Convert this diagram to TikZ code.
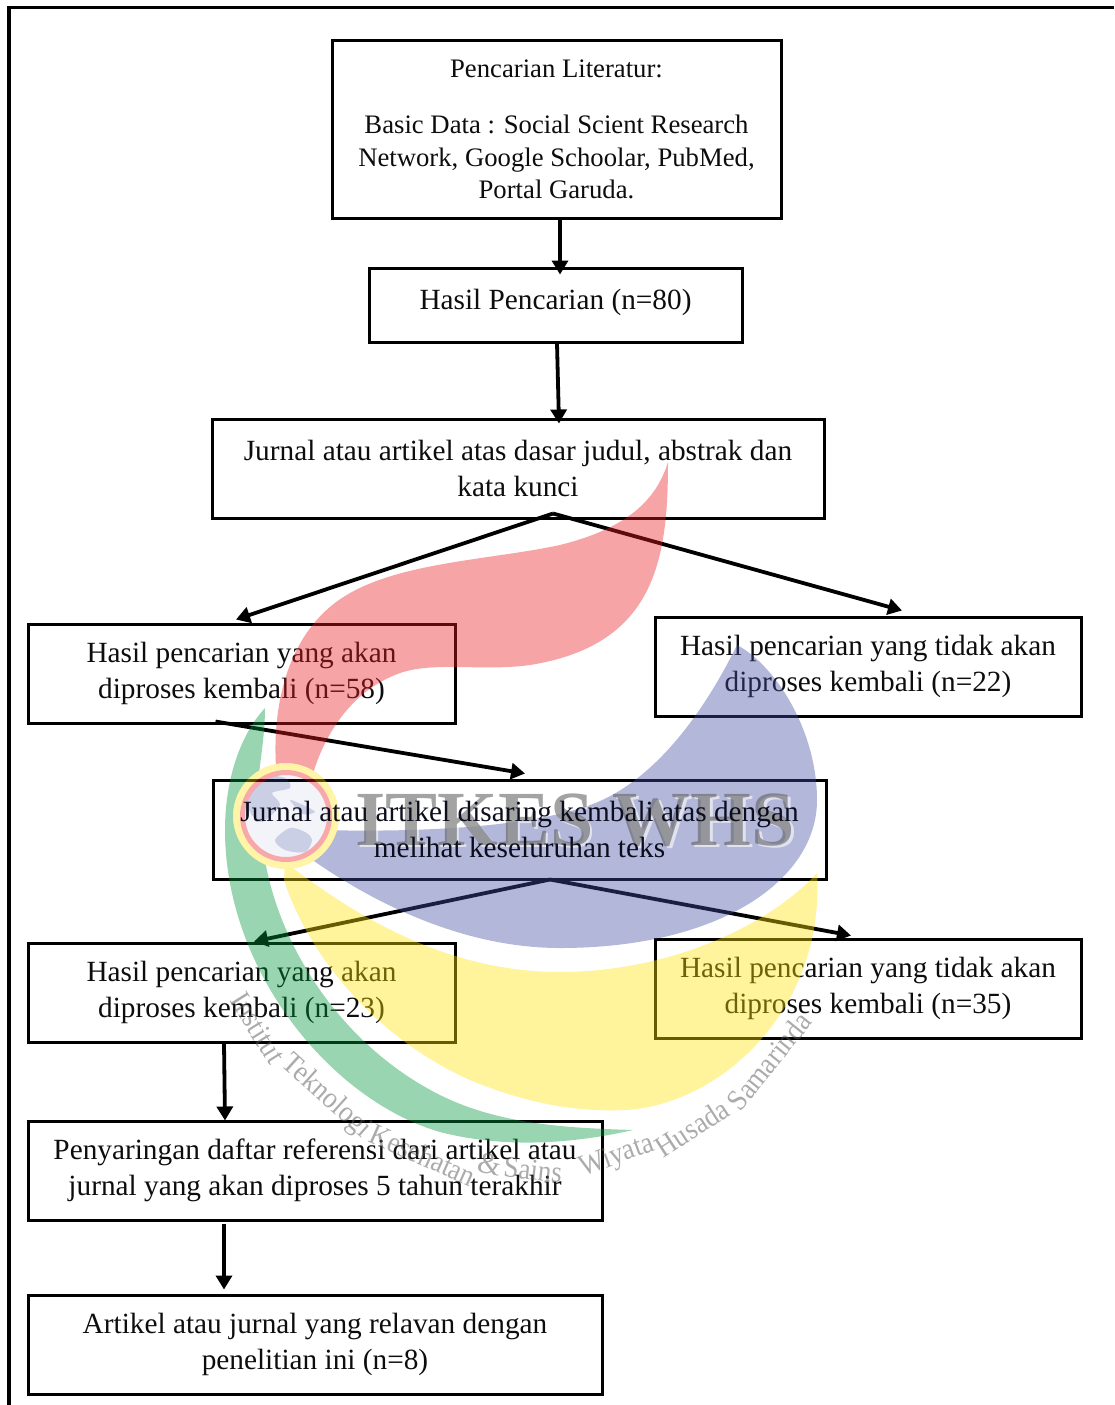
\documentclass[tikz,border=0pt]{standalone}
\usepackage{fontspec}
\setmainfont{Liberation Serif}
\usetikzlibrary{arrows.meta,calc}
\definecolor{wmred}{HTML}{ED1C24}
\definecolor{wmblue}{HTML}{414DA2}
\definecolor{wmyellow}{HTML}{FFE107}
\definecolor{wmgreen}{HTML}{02963A}
\newcommand{\wmw}[1]{\scalebox{.9}[1]{#1}}
\tikzset{
  x=1pt,y=-1pt,
  framerule/.style={line width=3.4pt,black,line cap=butt},
  flowbox/.style={draw=black,line width=3pt,fill=white,inner sep=0pt,align=center,
    font=\fontsize{29.3}{36.5}\selectfont,text=black!95},
  smallbox/.style={flowbox,font=\fontsize{26.7}{32.8}\selectfont},
  flowarrow/.style={line width=3.8pt,black,-{Triangle[length=14pt,width=16pt]}},
  wmshape/.style={fill opacity=.4},
  wmword/.style={inner sep=0pt,text=black!65,text opacity=.5,font=\fontsize{30}{30}\selectfont},
  overtext/.style={inner sep=0pt,align=center,font=\fontsize{29.3}{36.5}\selectfont,text=black!82!wmblue},
}
\begin{document}
\begin{tikzpicture}
\useasboundingbox (0,0) rectangle (1114,1405);
\fill[white] (0,0) rectangle (1114,1405);
\coordinate (fa) at (1114,7.5);
\coordinate (fb) at (9,7.5);
\coordinate (fc) at (9,1405);
\draw[framerule] (fa) -- (fb) -- (fc);

\node[smallbox,minimum width=449pt,minimum height=177pt] (b1) at (556.5,129.5)
 {Pencarian Literatur:\\[23pt]Basic Data : Social Scient Research\\Network, Google Schoolar, PubMed,\\Portal Garuda.};
\node[flowbox,minimum width=373pt,minimum height=74pt] (b2) at (555.5,305) {\raisebox{12pt}{Hasil Pencarian (n=80)}};
\node[flowbox,minimum width=612pt,minimum height=99pt] (b3) at (518,468.5) {Jurnal atau artikel atas dasar judul, abstrak dan\\kata kunci};
\node[flowbox,minimum width=427pt,minimum height=99pt] (b4) at (241.5,673.5) {Hasil pencarian yang akan\\diproses kembali (n=58)};
\node[flowbox,minimum width=426pt,minimum height=99pt] (b5) at (868,666.5) {Hasil pencarian yang tidak akan\\diproses kembali (n=22)};
\node[flowbox,minimum width=613pt,minimum height=99pt] (b6) at (519.5,829.5) {};
\node[flowbox,minimum width=427pt,minimum height=99pt] (b7) at (241.5,992.5) {Hasil pencarian yang akan\\diproses kembali (n=23)};
\node[flowbox,minimum width=426pt,minimum height=99pt] (b8) at (868,988.5) {Hasil pencarian yang tidak akan\\diproses kembali (n=35)};
\node[flowbox,minimum width=574pt,minimum height=99pt] (b9) at (315,1170.5) {Penyaringan daftar referensi dari artikel atau\\jurnal yang akan diproses 5 tahun terakhir};
\node[flowbox,minimum width=574pt,minimum height=99pt] (b10) at (315,1344.5) {Artikel atau jurnal yang relavan dengan\\penelitian ini (n=8)};

\draw[flowarrow] ([xshift=3.5pt]b1.south) -- ([xshift=4.5pt,yshift=-8pt]b2.north);
\draw[flowarrow] ([xshift=1.5pt]b2.south) -- ([xshift=41pt,yshift=-6pt]b3.north);
\draw[flowarrow] ([xshift=35pt,yshift=6pt]b3.south) -- ([xshift=-5.5pt,yshift=3pt]b4.north);
\draw[flowarrow] ([xshift=35pt,yshift=6pt]b3.south) -- ([xshift=34pt,yshift=5pt]b5.north);
\draw[flowarrow] ([xshift=-26pt,yshift=3pt]b4.south) -- ([xshift=5.5pt,yshift=5pt]b6.north);
\draw[flowarrow] ([xshift=30.5pt,yshift=1pt]b6.south) -- ([xshift=12.5pt]b7.north);
\draw[flowarrow] ([xshift=30.5pt,yshift=1pt]b6.south) -- ([xshift=-17pt,yshift=2pt]b8.north);
\draw[flowarrow] ([xshift=-17.5pt]b7.south) -- ([xshift=-90pt,yshift=-1pt]b9.north);
\draw[flowarrow] ([xshift=-91pt,yshift=-2pt]b9.south) -- ([xshift=-91pt,yshift=4pt]b10.north);

% watermark, laid over the chart
\begin{scope}[even odd rule]
\clip (0,0) rectangle (1114,1405) (286,816) circle (53);
\fill[wmred,wmshape] (668,462) .. controls (668,560) and (655,645) .. (530,665)
  .. controls (480,672) and (430,660) .. (395,675)
  .. controls (345,695) and (320,745) .. (311,781) -- (276,767)
  .. controls (272,700) and (290,630) .. (345,596)
  .. controls (400,562) and (490,560) .. (560,545)
  .. controls (620,530) and (655,505) .. (668,462) -- cycle;
\fill[wmblue,wmshape] (737,645) .. controls (775,665) and (817,730) .. (817,800)
  .. controls (817,880) and (720,948) .. (560,948)
  .. controls (460,948) and (370,900) .. (314,861) -- (320,830)
  .. controls (400,832) and (520,830) .. (590,805)
  .. controls (660,780) and (710,700) .. (737,645) -- cycle;
\fill[wmyellow,wmshape] (817,873) .. controls (770,925) and (670,972) .. (560,972)
  .. controls (450,972) and (360,920) .. (285,862) -- (284,880)
  .. controls (310,960) and (380,1040) .. (470,1080)
  .. controls (530,1105) and (580,1112) .. (625,1110)
  .. controls (720,1105) and (825,1010) .. (817,873) -- cycle;
\fill[wmgreen,wmshape] (265,708) .. controls (265,740) and (258,770) .. (258,790) -- (266,866)
  .. controls (285,960) and (350,1050) .. (440,1095)
  .. controls (500,1125) and (570,1128) .. (633,1130)
  .. controls (580,1142) and (510,1150) .. (440,1132)
  .. controls (330,1100) and (225,970) .. (225,830)
  .. controls (225,780) and (240,735) .. (265,708) -- cycle;
\end{scope}
\fill[wmyellow,fill opacity=.35,even odd rule] (286,816) circle (53) circle (46);
\fill[wmred,fill opacity=.38,even odd rule] (286,816) circle (46) circle (41);
\fill[wmblue,fill opacity=.06] (286,816) circle (41);
\begin{scope}
\clip (286,816) circle (41);
\fill[wmblue,fill opacity=.22] plot[smooth cycle] coordinates {(246,790)(262,776)(285,778)(290,788)(272,793)(280,805)(262,822)(250,812)};
\fill[wmblue,fill opacity=.22] plot[smooth cycle] coordinates {(275,840)(290,828)(305,832)(312,840)(305,852)(285,850)};
\fill[wmblue,fill opacity=.22] plot[smooth cycle] coordinates {(290,800)(305,806)(315,812)(303,814)};
\end{scope}

\node[text=white,text opacity=.6,font=\fontsize{78}{78}\selectfont\bfseries,inner sep=0pt] (wmtb) at (577.5,822) {ITKES WHS};
\node[text=black!65,text opacity=.55,font=\fontsize{78}{78}\selectfont\bfseries,inner sep=0pt] (wmt) at (575,820) {ITKES WHS};
\node[overtext] (t6) at (b6.center) {Jurnal atau artikel disaring kembali atas dengan\\melihat keseluruhan teks};

\node[wmword,rotate=-58] (w1) at (258,1028) {\wmw{Institut}};
\node[wmword,rotate=-42] (w2) at (326,1097) {\wmw{Teknologi}};
\node[wmword,rotate=-24] (w3) at (423,1155) {\wmw{Kesehatan}};
\node[wmword,rotate=-12] (w4) at (490,1164) {\&};
\node[wmword,rotate=-6] (w5) at (533,1170) {\wmw{Sains}};
\node[wmword,rotate=20] (w6) at (617,1157) {\wmw{Wiyata}};
\node[wmword,rotate=33] (w7) at (692,1128) {\wmw{Husada}};
\node[wmword,rotate=51] (w8) at (769,1061) {\wmw{Samarinda}};
\end{tikzpicture}
\end{document}
